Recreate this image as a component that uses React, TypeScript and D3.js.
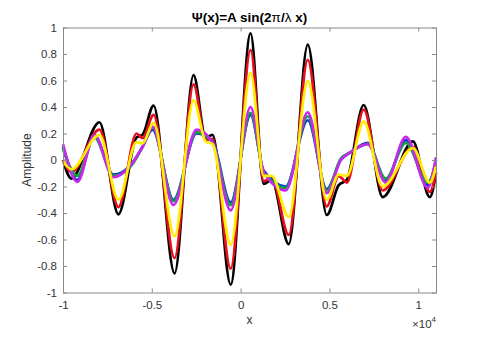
import React, { useRef, useEffect } from "react";
import * as d3 from "d3";

// x in units of 10^4
const bigX = [-1.0, -0.953, -0.795, -0.688, -0.586, -0.552, -0.49, -0.372, -0.265, -0.197, -0.158, -0.056, 0.056, 0.13, 0.175, 0.271, 0.378, 0.485, 0.552, 0.598, 0.693, 0.8, 0.97, 1.065, 1.1];
const blackY = [0.0, -0.14, 0.285, -0.41, 0.17, 0.19, 0.41, -0.855, 0.64, 0.17, 0.19, -0.94, 0.955, -0.18, -0.15, -0.635, 0.87, -0.415, -0.19, -0.15, 0.415, -0.28, 0.14, -0.28, -0.1];
const redY = [0.0, -0.09, 0.23, -0.355, 0.2, 0.165, 0.34, -0.74, 0.57, 0.15, 0.16, -0.82, 0.83, -0.16, -0.13, -0.565, 0.755, -0.35, -0.12, -0.17, 0.38, -0.23, 0.1, -0.24, -0.09];
const yellowY = [-0.01, -0.07, 0.19, -0.3, 0.135, 0.125, 0.28, -0.575, 0.45, 0.14, 0.12, -0.64, 0.655, -0.12, -0.12, -0.43, 0.595, -0.3, -0.11, -0.12, 0.29, -0.2, 0.09, -0.17, -0.05];

const smallX = [-1.0, -0.919, -0.823, -0.716, -0.62, -0.552, -0.496, -0.378, -0.248, -0.158, -0.056, 0.056, 0.13, 0.254, 0.378, 0.485, 0.564, 0.62, 0.716, 0.817, 0.93, 1.054, 1.1];
const blueY = [0.1, -0.15, 0.18, -0.11, -0.04, 0.1, 0.23, -0.3, 0.2, 0.14, -0.32, 0.34, -0.08, -0.2, 0.3, -0.22, 0.0, 0.06, 0.13, -0.15, 0.15, -0.19, 0.0];
const greenY = [0.08, -0.12, 0.17, -0.12, -0.05, 0.1, 0.25, -0.31, 0.21, 0.13, -0.34, 0.355, -0.09, -0.21, 0.33, -0.23, 0.01, 0.06, 0.12, -0.14, 0.13, -0.17, -0.02];
const magentaY = [0.12, -0.165, 0.19, -0.13, -0.04, 0.1, 0.25, -0.34, 0.23, 0.13, -0.38, 0.4, -0.09, -0.23, 0.36, -0.25, 0.0, 0.06, 0.12, -0.17, 0.175, -0.21, 0.02];

const xTicks = [-1, -0.5, 0, 0.5, 1];
const yTicks = [-1, -0.8, -0.6, -0.4, -0.2, 0, 0.2, 0.4, 0.6, 0.8, 1];

const series = [
  { xs: bigX, ys: blackY, color: "#000000" },
  { xs: bigX, ys: redY, color: "#e8101c" },
  { xs: smallX, ys: blueY, color: "#1038d0" },
  { xs: smallX, ys: greenY, color: "#10a040" },
  { xs: smallX, ys: magentaY, color: "#c828ec" },
  { xs: bigX, ys: yellowY, color: "#ffee00" },
];

export default function App() {
  const chartRef = useRef<SVGSVGElement>(null);

  useEffect(() => {
    const width = 480;
    const height = 342;
    const margin = { top: 27.5, right: 44, bottom: 49.5, left: 63 };
    const font = "'Liberation Sans', Arial, sans-serif";

    const svg = d3.select(chartRef.current);
    svg.selectAll("*").remove();

    const x = d3.scaleLinear().domain([-1, 1.1]).range([margin.left, width - margin.right]);
    const y = d3.scaleLinear().domain([-1, 1]).range([height - margin.bottom, margin.top]);

    // curves
    const line = d3.line().curve(d3.curveMonotoneX);
    series.forEach((s) => {
      const pts = s.xs.map((v, i) => [x(v), y(s.ys[i])] as [number, number]);
      svg.append("path")
        .attr("d", line(pts))
        .attr("fill", "none")
        .attr("stroke", s.color)
        .attr("stroke-width", 2.7)
        .attr("stroke-linejoin", "round");
    });

    const fmt = (d: number) => String(+d.toFixed(1));
    const axisColor = "#8a8a8a";

    const styleAxis = (g: any) => {
      g.select(".domain").remove();
      g.selectAll("line").attr("stroke", axisColor);
      g.selectAll("text").attr("fill", "#333").style("font-family", font).style("font-size", "11.5px");
    };

    // bottom / left with labels, ticks inward
    svg.append("g")
      .attr("transform", `translate(0,${y(-1)})`)
      .call(d3.axisBottom(x).tickValues(xTicks).tickFormat(fmt as any).tickSizeInner(-4).tickSizeOuter(0).tickPadding(8))
      .call(styleAxis);
    svg.append("g")
      .attr("transform", `translate(${x(-1)},0)`)
      .call(d3.axisLeft(y).tickValues(yTicks).tickFormat(fmt as any).tickSizeInner(-4).tickSizeOuter(0).tickPadding(6))
      .call(styleAxis);
    // top / right, ticks only
    svg.append("g")
      .attr("transform", `translate(0,${y(1)})`)
      .call(d3.axisTop(x).tickValues(xTicks).tickFormat(() => "").tickSizeInner(-4).tickSizeOuter(0))
      .call(styleAxis);
    svg.append("g")
      .attr("transform", `translate(${x(1.1)},0)`)
      .call(d3.axisRight(y).tickValues(yTicks).tickFormat(() => "").tickSizeInner(-4).tickSizeOuter(0))
      .call(styleAxis);

    // box
    svg.append("rect")
      .attr("x", x(-1) + 0.5).attr("y", y(1) + 0.5)
      .attr("width", x(1.1) - x(-1)).attr("height", y(-1) - y(1))
      .attr("fill", "none").attr("stroke", axisColor);

    // title
    const title = svg.append("text")
      .attr("x", (x(-1) + x(1.1)) / 2).attr("y", 22)
      .attr("text-anchor", "middle")
      .style("font-family", font).style("font-size", "13.5px").style("font-weight", "bold")
      .attr("fill", "#000");
    title.append("tspan").text("Ψ(x)=A sin(2");
    title.append("tspan").style("font-weight", "normal").text("π");
    title.append("tspan").text("/");
    title.append("tspan").style("font-weight", "normal").text("λ");
    title.append("tspan").text(" x)");

    // axis labels
    svg.append("text")
      .attr("x", (x(-1) + x(1.1)) / 2).attr("y", 324)
      .attr("text-anchor", "middle")
      .style("font-family", font).style("font-size", "12px")
      .attr("fill", "#333").text("x");

    svg.append("text")
      .attr("transform", `translate(31,${y(0)}) rotate(-90)`)
      .attr("text-anchor", "middle")
      .style("font-family", font).style("font-size", "12px")
      .attr("fill", "#333").text("Amplitude");

    const exp = svg.append("text")
      .attr("x", x(1.1)).attr("y", 328)
      .attr("text-anchor", "end")
      .style("font-family", font).style("font-size", "11.5px")
      .attr("fill", "#333");
    exp.append("tspan").text("×10");
    exp.append("tspan").attr("dy", -6).style("font-size", "8px").text("4");
  }, []);

  return (
    <svg
      ref={chartRef}
      width={480}
      height={342}
      style={{ position: "absolute", left: 0, top: 0, background: "white" }}
    />
  );
}
